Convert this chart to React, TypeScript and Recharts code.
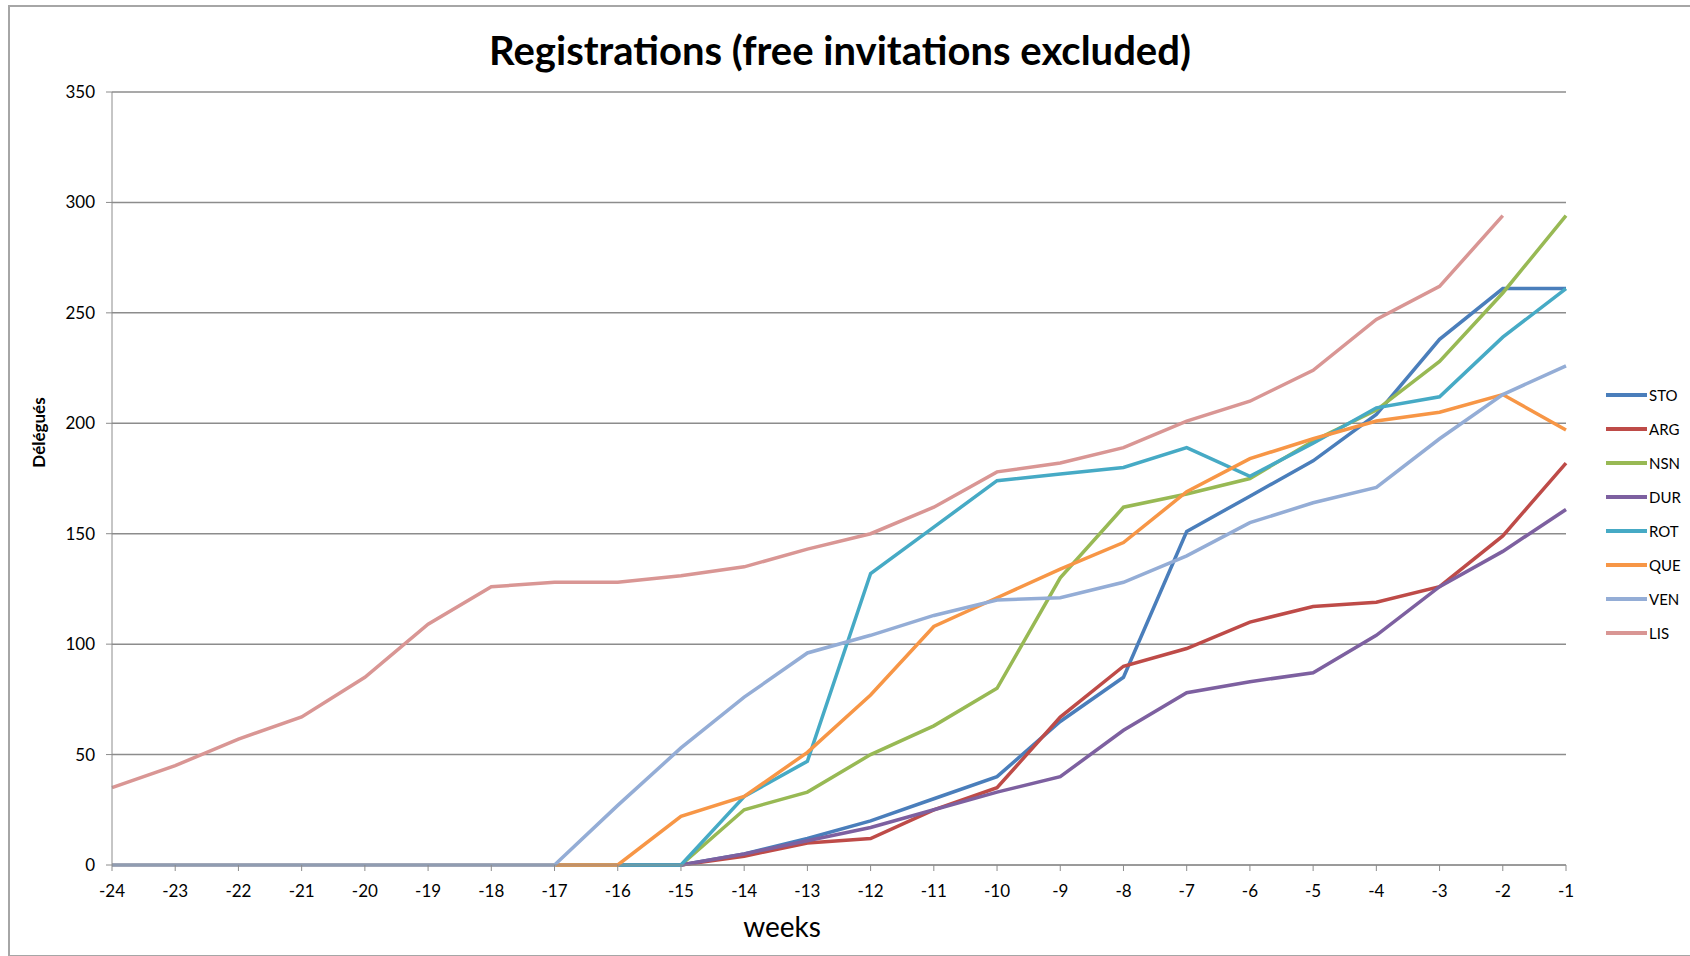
import { LineChart, Line, XAxis, YAxis, CartesianGrid, Legend, Label } from 'recharts';

const weeks = ['-24', '-23', '-22', '-21', '-20', '-19', '-18', '-17', '-16', '-15', '-14', '-13', '-12', '-11', '-10', '-9', '-8', '-7', '-6', '-5', '-4', '-3', '-2', '-1'];

const sto = [0, 0, 0, 0, 0, 0, 0, 0, 0, 0, 5, 12, 20, 30, 40, 65, 85, 151, 167, 183, 204, 238, 261, 261];
const arg = [0, 0, 0, 0, 0, 0, 0, 0, 0, 0, 4, 10, 12, 25, 35, 67, 90, 98, 110, 117, 119, 126, 149, 182];
const nsn = [0, 0, 0, 0, 0, 0, 0, 0, 0, 0, 25, 33, 50, 63, 80, 130, 162, 168, 175, 192, 206, 228, 259, 294];
const dur = [0, 0, 0, 0, 0, 0, 0, 0, 0, 0, 5, 11, 17, 25, 33, 40, 61, 78, 83, 87, 104, 126, 142, 161];
const rot = [0, 0, 0, 0, 0, 0, 0, 0, 0, 0, 31, 47, 132, 153, 174, 177, 180, 189, 176, 191, 207, 212, 239, 261];
const que = [0, 0, 0, 0, 0, 0, 0, 0, 0, 22, 31, 51, 77, 108, 121, 134, 146, 169, 184, 193, 201, 205, 213, 197];
const ven = [0, 0, 0, 0, 0, 0, 0, 0, 27, 53, 76, 96, 104, 113, 120, 121, 128, 140, 155, 164, 171, 193, 213, 226];
const lis = [35, 45, 57, 67, 85, 109, 126, 128, 128, 131, 135, 143, 150, 162, 178, 182, 189, 201, 210, 224, 247, 262, 294, null];

const yTicks = [0, 50, 100, 150, 200, 250, 300, 350];

const series = [
  { key: 'STO', values: sto, color: '#4A7EBB' },
  { key: 'ARG', values: arg, color: '#BE4B48' },
  { key: 'NSN', values: nsn, color: '#98B954' },
  { key: 'DUR', values: dur, color: '#7D60A0' },
  { key: 'ROT', values: rot, color: '#46AAC5' },
  { key: 'QUE', values: que, color: '#F79646' },
  { key: 'VEN', values: ven, color: '#94ADD6' },
  { key: 'LIS', values: lis, color: '#D99694' },
];

const data = weeks.map((w, i) => {
  const row: Record<string, string | number | null> = { week: w };
  series.forEach((s) => {
    row[s.key] = s.values[i];
  });
  return row;
});

const FONT = 'Lato, "Open Sans", sans-serif';

const LegendList = () => (
  <div style={{ fontFamily: FONT, fontSize: 15, color: '#000' }}>
    {series.map((s) => (
      <div key={s.key} style={{ display: 'flex', alignItems: 'center', height: 34 }}>
        <span style={{ display: 'inline-block', width: 41, height: 4, background: s.color, marginRight: 2 }} />
        <span>{s.key}</span>
      </div>
    ))}
  </div>
);

export default function App() {
  return (
    <div style={{ position: 'absolute', left: 0, top: 0, width: 1690, height: 956, background: '#fff', overflow: 'hidden' }}>
      <div
        style={{
          position: 'absolute',
          left: 8,
          top: 5,
          width: 1690,
          height: 948,
          borderTop: '2px solid #a6a6a6',
          borderLeft: '2px solid #a6a6a6',
          borderBottom: '2px solid #a6a6a6',
        }}
      />
      <div
        style={{
          position: 'absolute',
          left: 0,
          top: 26,
          width: 1680,
          textAlign: 'center',
          fontFamily: FONT,
          fontWeight: 700,
          fontSize: 40,
          lineHeight: '48px',
          color: '#000',
        }}
      >
        Registrations (free invitations excluded)
      </div>
      <div style={{ position: 'absolute', left: 0, top: 0 }}>
        <LineChart width={1690} height={956} data={data} margin={{ top: 92, right: 124, left: 52, bottom: 51 }}>
          <CartesianGrid vertical={false} stroke="#8c8c8c" strokeWidth={1.5} />
          <XAxis
            dataKey="week"
            interval={0}
            height={40}
            stroke="#8c8c8c"
            tickSize={6}
            tickMargin={14}
            tick={{ fill: '#000', fontSize: 17, fontFamily: FONT }}
          >
            <Label value="weeks" position="bottom" offset={12} dx={-57} style={{ fontSize: 28, fontFamily: FONT, fill: '#000' }} />
          </XAxis>
          <YAxis
            domain={[0, 350]}
            ticks={yTicks}
            width={60}
            stroke="#8c8c8c"
            tickSize={6}
            tickMargin={11}
            tick={{ fill: '#000', fontSize: 17, fontFamily: FONT }}
          >
            <Label
              value="Délégués"
              angle={-90}
              position="left"
              offset={13}
              dy={-46}
              textAnchor="middle"
              style={{ fontSize: 17, fontWeight: 700, fontFamily: FONT, fill: '#000' }}
            />
          </YAxis>
          <Legend
            layout="horizontal"
            verticalAlign="middle"
            align="center"
            content={<LegendList />}
            wrapperStyle={{ position: 'absolute', left: 1606, top: 378, width: 80 }}
          />
          {series.map((s) => (
            <Line
              key={s.key}
              type="linear"
              dataKey={s.key}
              stroke={s.color}
              strokeWidth={3.5}
              dot={false}
              activeDot={false}
              isAnimationActive={false}
              connectNulls={false}
            />
          ))}
        </LineChart>
      </div>
    </div>
  );
}
